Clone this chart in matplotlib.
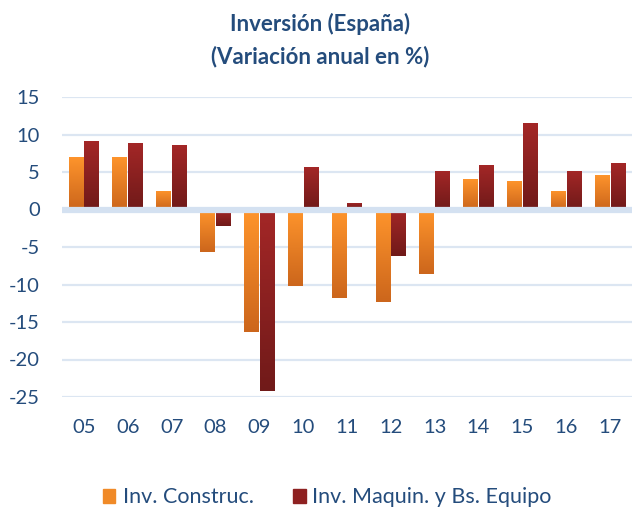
import numpy as np
import matplotlib
matplotlib.use("Agg")
import matplotlib.pyplot as plt
from matplotlib.patches import Rectangle
from matplotlib.colors import LinearSegmentedColormap

years = ["05", "06", "07", "08", "09", "10", "11", "12", "13", "14", "15", "16", "17"]
construccion = [7.0, 7.0, 2.5, -5.7, -16.4, -10.2, -11.8, -12.4, -8.6, 4.1, 3.8, 2.5, 4.6]
maquinaria = [9.2, 8.9, 8.6, -2.2, -24.2, 5.7, 0.9, -6.2, 5.15, 6.0, 11.6, 5.15, 6.2]
yticks = [15, 10, 5, 0, -5, -10, -15, -20, -25]
labels = ["Inv. Construc.", "Inv. Maquin. y Bs. Equipo"]

text_color = "#244C7C"
orange_cmap = LinearSegmentedColormap.from_list("o", ["#CC661C", "#FF952C"])
red_cmap = LinearSegmentedColormap.from_list("r", ["#701A19", "#A42727"])

plt.rcParams['font.family'] = ['Lato', 'DejaVu Sans']

fig = plt.figure(figsize=(6.34, 5.08), dpi=100)
ax = fig.add_axes([62/634, 1 - 397/508, 570/634, 300/508])

x = np.arange(len(years))
w = 0.34
off = 0.18
grad = np.linspace(0, 1, 256).reshape(-1, 1)

def grad_bars(xs, vals, cmap):
    bars = ax.bar(xs, vals, width=w, color="none", edgecolor="none", zorder=2)
    for b in bars:
        x0 = b.get_x(); x1 = x0 + b.get_width()
        y0 = min(b.get_y(), b.get_y() + b.get_height())
        y1 = max(b.get_y(), b.get_y() + b.get_height())
        im = ax.imshow(grad, cmap=cmap, extent=[x0, x1, y0, y1], origin="lower",
                       aspect="auto", zorder=2, interpolation="bilinear")
        im.set_clip_path(b)
    return bars

grad_bars(x - off, construccion, orange_cmap)
grad_bars(x + off, maquinaria, red_cmap)

for t in yticks:
    if t == 0:
        ax.axhline(0, color="#D4E1F1", lw=4.5, zorder=3)
    else:
        ax.axhline(t, color="#DCE6F2", lw=1.6, zorder=1)

ax.set_xlim(-0.5, len(years) - 0.5)
ax.set_ylim(-25, 15)
ax.set_yticks(yticks)
ax.set_yticklabels([str(t) for t in yticks])
ax.set_xticks(x)
ax.set_xticklabels(years)
ax.tick_params(axis="y", length=0, pad=16, labelsize=14.5, labelcolor=text_color)
ax.tick_params(axis="x", length=0, pad=16, labelsize=14.5, labelcolor=text_color)
for s in ax.spines.values():
    s.set_visible(False)

fig.text(0.505, 1 - 24/508, "Inversión (España)", ha="center", va="center",
         fontsize=16, fontweight="bold", color=text_color)
fig.text(0.505, 1 - 57/508, "(Variación anual en %)", ha="center", va="center",
         fontsize=16, fontweight="bold", color=text_color)

# legend
fig.patches.append(Rectangle((103/634, 1 - 503/508), 12/634, 14/508,
                             transform=fig.transFigure, color="#F08A28"))
fig.text(123/634, 1 - 497/508, labels[0], ha="left", va="center", fontsize=15.5,
         color=text_color)
fig.patches.append(Rectangle((293/634, 1 - 503/508), 13/634, 14/508,
                             transform=fig.transFigure, color="#8E2121"))
fig.text(312/634, 1 - 497/508, labels[1], ha="left", va="center", fontsize=15.5,
         color=text_color)

fig.savefig("out.png", dpi=100)
